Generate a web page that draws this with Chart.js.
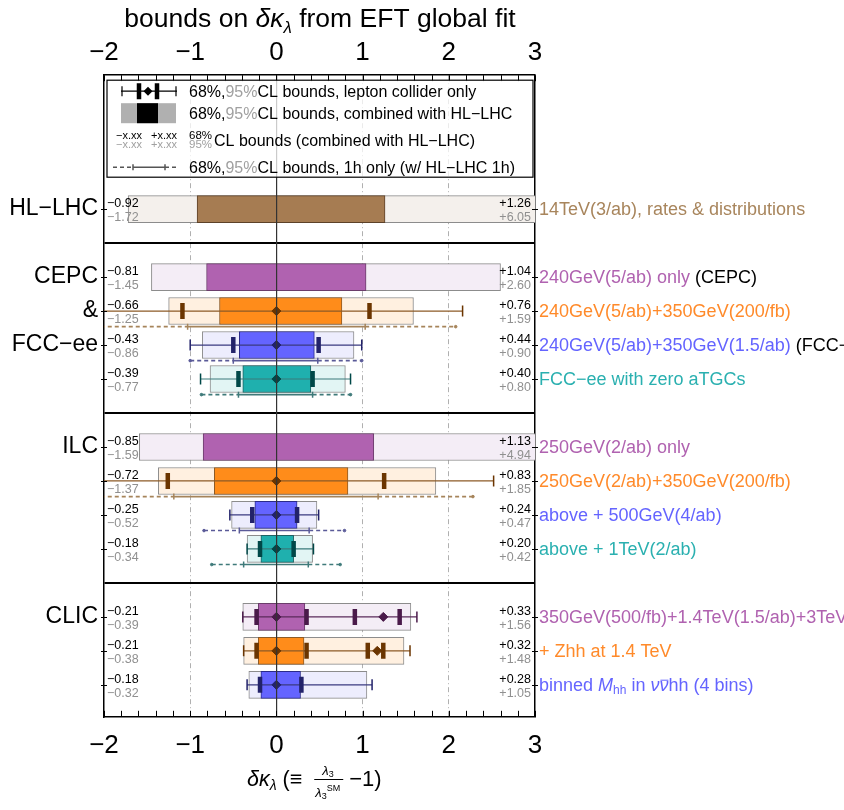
<!DOCTYPE html>
<html>
<head>
<meta charset="utf-8">
<script src="https://cdn.jsdelivr.net/npm/chart.js@4.4.1/dist/chart.umd.min.js"></script>
<style>body{margin:0;background:#fff}</style>
</head>
<body>
<canvas id="myCanvas" width="844" height="810"></canvas>
<script>
const canvas = document.getElementById("myCanvas");
const ctx = canvas.getContext("2d");
const FONT = '"Liberation Sans", Arial, sans-serif';
Chart.defaults.font.family = FONT;

// rows from top to bottom, in row units
const rowY = [4, 6, 7, 8, 9, 11, 12, 13, 14, 16, 17, 18];
const rowLabels = ["14TeV(3/ab), rates & distributions", "240GeV(5/ab) only", "240GeV(5/ab)+350GeV(200/fb)",
    "240GeV(5/ab)+350GeV(1.5/ab)", "FCC\u2212ee with zero aTGCs", "250GeV(2/ab) only", "250GeV(2/ab)+350GeV(200/fb)",
    "above + 500GeV(4/ab)", "above + 1TeV(2/ab)", "350GeV(500/fb)+1.4TeV(1.5/ab)+3TeV(2/ab)", "+ Zhh at 1.4 TeV", "binned M_hh"];
const rowNotes = ["", " (CEPC)", "", " (FCC\u2212ee)", "", "", "", "", "", "", "", ""];
const rowColor = ["brown", "purple", "orange", "blue", "teal", "purple", "orange", "blue", "teal", "purple", "orange", "blue"];
const groupLabels = [["HL\u2212LHC", 4], ["CEPC", 6], ["&", 7], ["FCC\u2212ee", 8], ["ILC", 11], ["CLIC", 16]];
const separators = [5, 10, 15];
const xTicks = [-2, -1, 0, 1, 2, 3];

// combined with HL-LHC
const lo68 = [-0.92, -0.81, -0.66, -0.43, -0.39, -0.85, -0.72, -0.25, -0.18, -0.21, -0.21, -0.18];
const hi68 = [1.26, 1.04, 0.76, 0.44, 0.40, 1.13, 0.83, 0.24, 0.20, 0.33, 0.32, 0.28];
const lo95 = [-1.72, -1.45, -1.25, -0.86, -0.77, -1.59, -1.37, -0.52, -0.34, -0.39, -0.38, -0.32];
const hi95 = [6.05, 2.60, 1.59, 0.90, 0.80, 4.94, 1.85, 0.47, 0.42, 1.56, 1.48, 1.05];

// lepton collider only
const lepLo95 = [null, null, -2.3, -1.00, -0.88, null, -2.3, -0.54, -0.34, -0.39, -0.38, -0.34];
const lepLo68 = [null, null, -1.09, -0.50, -0.44, null, -1.26, -0.28, -0.19, -0.23, -0.23, -0.19];
const lepBest = [null, null, 0, 0, 0, null, 0, 0, 0, 0, 0, 0];
const lepHi68 = [null, null, 1.08, 0.49, 0.42, null, 1.25, 0.24, 0.20, 0.35, 0.35, 0.29];
const lepHi95 = [null, null, 2.16, 0.99, 0.86, null, 2.52, 0.49, 0.43, 1.63, 1.55, 1.11];
// second minimum (CLIC)
const lep2Lo68 = [null, null, null, null, null, null, null, null, null, 0.91, 1.06, null];
const lep2Best = [null, null, null, null, null, null, null, null, null, 1.24, 1.17, null];
const lep2Hi68 = [null, null, null, null, null, null, null, null, null, 1.43, 1.24, null];

// 1h only (w/ HL-LHC 1h)
const hLo95 = [null, null, -2.2, -1.00, -0.87, null, -2.2, -0.84, -0.75, null, null, null];
const hLo68 = [null, null, -1.03, -0.50, -0.44, null, -1.19, -0.43, -0.38, null, null, null];
const hHi68 = [null, null, 1.03, 0.48, 0.42, null, 1.18, 0.38, 0.37, null, null, null];
const hHi95 = [null, null, 2.08, 0.99, 0.86, null, 2.28, 0.79, 0.74, null, null, null];

const palette = {
    brown:  {dark: "#a67c52", light: "#f4f0ec", edge: "#5c4128", text: "#a8855c", err: "#5c4128", cap: "#5c4128", h1: "#a08050"},
    purple: {dark: "#b062b0", light: "#f4edf6", edge: "#6b3d6b", text: "#b062b0", err: "#5a2a5a", cap: "#4a1a4a", h1: "#8a5a8a"},
    orange: {dark: "#ff8c1a", light: "#fff0e0", edge: "#8c5a26", text: "#ff8a2a", err: "#8c5a26", cap: "#6b3500", h1: "#a6845a"},
    blue:   {dark: "#6464ff", light: "#ededfd", edge: "#2b2b8a", text: "#6464ff", err: "#3a3a80", cap: "#22226a", h1: "#5a5a98"},
    teal:   {dark: "#1fb0ae", light: "#e2f5f4", edge: "#1f6363", text: "#2ab0b0", err: "#3a7a7a", cap: "#004848", h1: "#3f7a7a"}
};

const datasets = [];
// 95% boxes
datasets.push({
    type: "bar", indexAxis: "y", grouped: false, order: 20, barThickness: 27,
    data: rowY.map((y, i) => ({y: y, x: [lo95[i], hi95[i]]})),
    backgroundColor: rowColor.map(c => palette[c].light),
    borderColor: "#8c8c8c", borderWidth: 1, borderSkipped: false
});
// 68% boxes
datasets.push({
    type: "bar", indexAxis: "y", grouped: false, order: 19, barThickness: 27,
    data: rowY.map((y, i) => ({y: y, x: [lo68[i], hi68[i]]})),
    backgroundColor: rowColor.map(c => palette[c].dark),
    borderColor: rowColor.map(c => palette[c].edge), borderWidth: 1, borderSkipped: false
});
// lepton collider only error bars
rowY.forEach((y, i) => {
    if (lepLo95[i] === null) return;
    const pal = palette[rowColor[i]];
    const xs = [lepLo95[i], lepLo68[i], lepBest[i], lepHi68[i]];
    const kinds = ["cap", "thick", "best", "thick"];
    if (lep2Best[i] !== null) {
        xs.push(lep2Lo68[i], lep2Best[i], lep2Hi68[i]);
        kinds.push("thick", "best", "thick");
    }
    xs.push(lepHi95[i]);
    kinds.push("cap");
    datasets.push({
        type: "line", order: 5, showLine: true,
        data: xs.map(x => ({x: x, y: y})),
        borderColor: pal.err, borderWidth: 1.2,
        pointStyle: kinds.map(k => k === "best" ? "rectRot" : "line"),
        pointRotation: kinds.map(k => k === "best" ? 0 : 90),
        pointRadius: kinds.map(k => k === "cap" ? 5.5 : k === "thick" ? 8 : 4.5),
        pointBorderWidth: kinds.map(k => k === "thick" ? 4.5 : k === "cap" ? 1.5 : 1),
        pointBorderColor: pal.cap, pointBackgroundColor: pal.cap
    });
});
// 1h only
rowY.forEach((y, i) => {
    if (hLo95[i] === null) return;
    const pal = palette[rowColor[i]];
    datasets.push({
        type: "line", order: 6, showLine: true,
        data: [hLo95[i], hLo68[i], hHi68[i], hHi95[i]].map(x => ({x: x, y: y + 0.46})),
        borderColor: pal.h1, borderWidth: 1.6,
        segment: {borderDash: c => c.p0DataIndex === 1 ? [] : [4, 3]},
        pointStyle: ["circle", "line", "line", "circle"],
        pointRotation: [0, 90, 90, 0],
        pointRadius: [1.3, 3, 3, 1.3],
        pointBorderWidth: [1, 1.5, 1.5, 1],
        pointBorderColor: pal.h1, pointBackgroundColor: pal.h1
    });
});

function fmtTick(v) { return v < 0 ? "\u2212" + Math.abs(v) : "" + v; }
function signed(v, plus) { return (plus ? "+" : "\u2212") + Math.abs(v).toFixed(2); }

function drawPieces(c, x, y, pieces, base) {
    for (const p of pieces) {
        const size = p.size || base;
        c.font = (p.italic ? "italic " : "") + size + "px " + FONT;
        c.fillStyle = p.color || "#000";
        const dy = p.dy || 0;
        c.fillText(p.t, x, y + dy);
        const w = c.measureText(p.t).width;
        if (p.over) c.fillRect(x + 1, y + dy - size * 0.62, w - 1, 1);
        x += w;
    }
    return x;
}

const decor = {
    id: "decor",
    afterDraw(chart) {
        const c = chart.ctx, a = chart.chartArea, xs = chart.scales.x, ys = chart.scales.y;
        c.save();
        // frame ticks
        c.strokeStyle = "#000";
        c.lineWidth = 1;
        c.beginPath();
        for (let k = 0; k <= 25; k++) {
            const px = Math.round(xs.getPixelForValue(-2 + k * 0.2)) + 0.5;
            c.moveTo(px, a.top); c.lineTo(px, a.top + 6);
            c.moveTo(px, a.bottom); c.lineTo(px, a.bottom - 6);
        }
        rowY.forEach(v => {
            const py = Math.round(ys.getPixelForValue(v)) + 0.5;
            c.moveTo(a.left - 3, py); c.lineTo(a.left + 3, py);
            c.moveTo(a.right - 3, py); c.lineTo(a.right + 3, py);
        });
        c.stroke();

        // legend box
        const L = a.left + 3, T = a.top + 5, R = a.right - 2, B = a.top + 102;
        c.fillStyle = "rgba(255,255,255,0.75)";
        c.fillRect(L, T, R - L, B - T);
        c.strokeStyle = "#000";
        c.lineWidth = 1.2;
        c.strokeRect(L, T, R - L, B - T);
        const ix = a.left + 17, tx = a.left + 85, gray = "#a0a0a0";
        // row 1: error bar
        let cy = a.top + 16;
        c.strokeStyle = "#000"; c.lineWidth = 1.2;
        c.beginPath(); c.moveTo(ix, cy); c.lineTo(ix + 56, cy);
        c.moveTo(ix + 1, cy - 5); c.lineTo(ix + 1, cy + 5);
        c.moveTo(ix + 55, cy - 5); c.lineTo(ix + 55, cy + 5); c.stroke();
        c.lineWidth = 4.5;
        c.beginPath(); c.moveTo(ix + 18, cy - 8); c.lineTo(ix + 18, cy + 8);
        c.moveTo(ix + 36, cy - 8); c.lineTo(ix + 36, cy + 8); c.stroke();
        c.fillStyle = "#000";
        c.beginPath(); c.moveTo(ix + 27, cy - 4.5); c.lineTo(ix + 31.5, cy); c.lineTo(ix + 27, cy + 4.5); c.lineTo(ix + 22.5, cy); c.closePath(); c.fill();
        c.textBaseline = "alphabetic"; c.textAlign = "left";
        drawPieces(c, tx, cy + 6, [{t: "68%,"}, {t: "95%", color: gray}, {t: "CL bounds, lepton collider only"}], 16);
        // row 2: boxes
        cy = a.top + 38;
        c.fillStyle = "#b0b0b0"; c.fillRect(ix, cy - 10, 55, 20);
        c.fillStyle = "#000"; c.fillRect(ix + 16, cy - 10, 21, 20);
        drawPieces(c, tx, cy + 6, [{t: "68%,"}, {t: "95%", color: gray}, {t: "CL bounds, combined with HL\u2212LHC"}], 16);
        // row 3: numbers
        cy = a.top + 65;
        drawPieces(c, ix - 5, cy - 1, [{t: "\u2212x.xx"}], 11);
        drawPieces(c, ix - 5, cy + 8, [{t: "\u2212x.xx", color: gray}], 11);
        drawPieces(c, ix + 30, cy - 1, [{t: "+x.xx"}], 11);
        drawPieces(c, ix + 30, cy + 8, [{t: "+x.xx", color: gray}], 11);
        drawPieces(c, tx, cy - 1, [{t: "68%"}], 11.5);
        const w95 = drawPieces(c, tx, cy + 8, [{t: "95%", color: gray}], 11.5);
        drawPieces(c, w95 + 2, cy + 6, [{t: "CL bounds (combined with HL\u2212LHC)"}], 16);
        // row 4: 1h only
        cy = a.top + 92;
        c.strokeStyle = "#555"; c.lineWidth = 1.5;
        c.setLineDash([4, 3]);
        c.beginPath(); c.moveTo(ix - 8, cy); c.lineTo(ix + 12, cy); c.moveTo(ix + 44, cy); c.lineTo(ix + 58, cy); c.stroke();
        c.setLineDash([]);
        c.beginPath(); c.moveTo(ix + 12, cy); c.lineTo(ix + 44, cy);
        c.moveTo(ix + 12, cy - 3); c.lineTo(ix + 12, cy + 3); c.moveTo(ix + 44, cy - 3); c.lineTo(ix + 44, cy + 3); c.stroke();
        drawPieces(c, tx, cy + 6, [{t: "68%,"}, {t: "95%", color: gray}, {t: "CL bounds, 1h only (w/ HL\u2212LHC 1h)"}], 16);

        // bound numbers inside the frame and labels on the right
        rowY.forEach((v, i) => {
            const py = ys.getPixelForValue(v);
            c.textAlign = "left";
            drawPieces(c, a.left + 3, py - 2, [{t: signed(lo68[i], false)}], 12.5);
            drawPieces(c, a.left + 3, py + 12, [{t: signed(lo95[i], false), color: "#909090"}], 12.5);
            c.textAlign = "right";
            drawPieces(c, a.right - 4, py - 2, [{t: signed(hi68[i], true)}], 12.5);
            drawPieces(c, a.right - 4, py + 12, [{t: signed(hi95[i], true), color: "#909090"}], 12.5);
            c.textAlign = "left";
            const col = palette[rowColor[i]].text;
            if (rowLabels[i] === "binned M_hh") {
                drawPieces(c, a.right + 4, py + 6, [
                    {t: "binned ", color: col}, {t: "M", italic: true, color: col}, {t: "hh", size: 12, dy: 3, color: col},
                    {t: " in ", color: col}, {t: "\u03bd", italic: true, color: col}, {t: "\u03bd", italic: true, color: col, over: true},
                    {t: "hh (4 bins)", color: col}], 18);
            } else {
                drawPieces(c, a.right + 4, py + 6, [{t: rowLabels[i], color: col}, {t: rowNotes[i], color: "#000"}], 18);
            }
        });

        // group labels on the left
        c.textAlign = "right";
        c.textBaseline = "middle";
        c.fillStyle = "#000";
        c.font = "23px " + FONT;
        groupLabels.forEach(g => c.fillText(g[0], a.left - 6, ys.getPixelForValue(g[1])));

        // title
        c.textAlign = "left";
        c.textBaseline = "alphabetic";
        const title = [{t: "bounds on "}, {t: "\u03b4\u03ba", italic: true}, {t: "\u03bb", italic: true, size: 17, dy: 6}, {t: " from EFT global fit"}];
        let tw = 0;
        title.forEach(p => { c.font = (p.italic ? "italic " : "") + (p.size || 26.5) + "px " + FONT; tw += c.measureText(p.t).width; });
        drawPieces(c, 320 - tw / 2, 27, title, 26.5);

        // bottom axis title
        const by = 786;
        let x = drawPieces(c, 247, by, [{t: "\u03b4\u03ba", italic: true}, {t: "\u03bb", italic: true, size: 14, dy: 4}, {t: " (\u2261 "}], 21.5);
        const fx = x + 6;
        drawPieces(c, fx + 8, by - 11, [{t: "\u03bb", italic: true}, {t: "3", size: 9, dy: 2}], 13);
        c.fillStyle = "#000"; c.fillRect(fx, by - 7, 29, 1);
        drawPieces(c, fx + 1, by + 11, [{t: "\u03bb", italic: true}, {t: "3", size: 9, dy: 2}, {t: "SM", size: 9, dy: -6}], 13);
        drawPieces(c, fx + 35, by, [{t: "\u22121)"}], 22);
        c.restore();
    }
};

const chart = new Chart(ctx, {
    type: "scatter",
    data: {datasets: datasets},
    options: {
        responsive: false,
        animation: false,
        layout: {padding: {left: 104, right: 309, top: 30, bottom: 36}},
        plugins: {legend: {display: false}, tooltip: {enabled: false}},
        scales: {
            x: {
                type: "linear", position: "bottom", min: -2, max: 3,
                afterBuildTicks: axis => { axis.ticks = xTicks.map(v => ({value: v})); },
                ticks: {callback: fmtTick, color: "#000", font: {size: 26}, padding: 13, maxRotation: 0},
                grid: {
                    drawTicks: false, lineWidth: 1,
                    color: c => (c.tick && (c.tick.value === 0 || c.tick.value === -2 || c.tick.value === 3)) ? "rgba(0,0,0,0)" : "#b0b0b0"
                },
                border: {display: true, color: "#000", width: 1.5, dash: [5, 3, 1, 3]}
            },
            x2: {
                type: "linear", position: "top", min: -2, max: 3,
                afterBuildTicks: axis => { axis.ticks = xTicks.map(v => ({value: v})); },
                ticks: {callback: fmtTick, color: "#000", font: {size: 26}, padding: 7, maxRotation: 0},
                grid: {
                    drawTicks: false, lineWidth: 1.2, z: 1,
                    color: c => (c.tick && c.tick.value === 0) ? "#333" : "rgba(0,0,0,0)"
                },
                border: {display: true, color: "#000", width: 1.5, z: 1}
            },
            y: {
                type: "linear", position: "left", min: 0.06, max: 18.94, reverse: true, offset: false, grace: 0,
                afterBuildTicks: axis => { axis.ticks = separators.map(v => ({value: v})); },
                ticks: {display: false},
                grid: {drawTicks: false, offset: false, color: "#000", lineWidth: 2},
                border: {display: true, color: "#000", width: 1.5}
            },
            y2: {
                type: "linear", position: "right", min: 0.06, max: 18.94, reverse: true, offset: false,
                ticks: {display: false},
                grid: {display: false, drawTicks: false, offset: false},
                border: {display: true, color: "#000", width: 1.5}
            }
        }
    },
    plugins: [decor]
});
</script>
</body>
</html>
